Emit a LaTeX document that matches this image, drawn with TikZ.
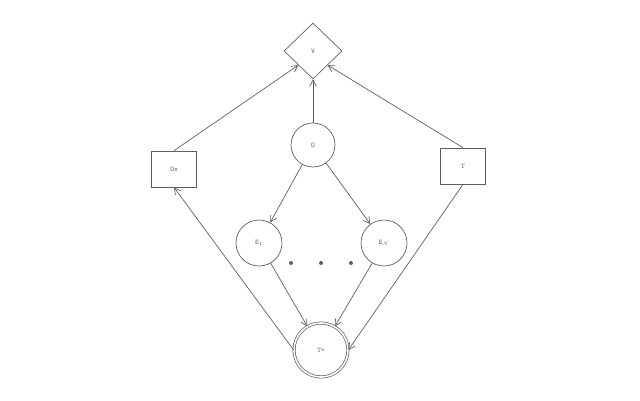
\documentclass[tikz,border=0pt]{standalone}
\usepackage{tikz}
\usetikzlibrary{shapes.geometric,arrows.meta,positioning}
\definecolor{linecolor}{RGB}{95, 95, 95}

\begin{document}
\begin{tikzpicture}[
    x=1pt, y=-1pt,
    line width=0.7pt,
    every node/.style={font=\ttfamily\scriptsize, text=linecolor},
    vnode/.style={diamond, draw=linecolor, inner sep=0pt, minimum width=58, minimum height=56},
    boxnode/.style={rectangle, draw=linecolor, inner sep=0pt, minimum width=45, minimum height=36},
    cnode/.style={circle, draw=linecolor, inner sep=0pt, minimum size=46},
    tnode/.style={circle, draw=linecolor, double, double distance=1.6pt, inner sep=0pt, minimum size=54},
    dotnode/.style={circle, fill=linecolor, inner sep=0pt, minimum size=4},
    link/.style={draw=linecolor, -{Straight Barb[length=2.2mm, width=2.4mm]}}
]
    \useasboundingbox (0,0) rectangle (640,401);

    % Value
    \node[vnode] (v) at (313, 51) {V};

    % Observation
    \node[cnode, minimum size=44] (o) at (313, 145) {O};

    % Boxes
    \node[boxnode] (ox) at (174, 169) {Ox};
    \node[boxnode] (t) at (463, 166) {T};

    % Experts
    \node[cnode] (e1) at (259, 243) {E$_1$};
    \node[cnode] (en) at (384, 243) {E$_N$};

    % Dots
    \node[dotnode] (d1) at (291, 263) {};
    \node[dotnode] (d2) at (321, 263) {};
    \node[dotnode] (d3) at (351, 263) {};

    % Target
    \node[tnode] (tplus) at (321, 350) {T+};

    % Links
    \draw[link] (o) -- (v);
    \draw[link] (ox.north) -- (v.south west);
    \draw[link] (t.north) -- (v.south east);
    \draw[link] (o) -- (e1);
    \draw[link] (o) -- (en);
    \draw[link] (e1) -- (tplus);
    \draw[link] (en) -- (tplus);
    \draw[link] (tplus.west) -- (ox.south);
    \draw[link] (t.south) -- (tplus.east);
\end{tikzpicture}
\end{document}
